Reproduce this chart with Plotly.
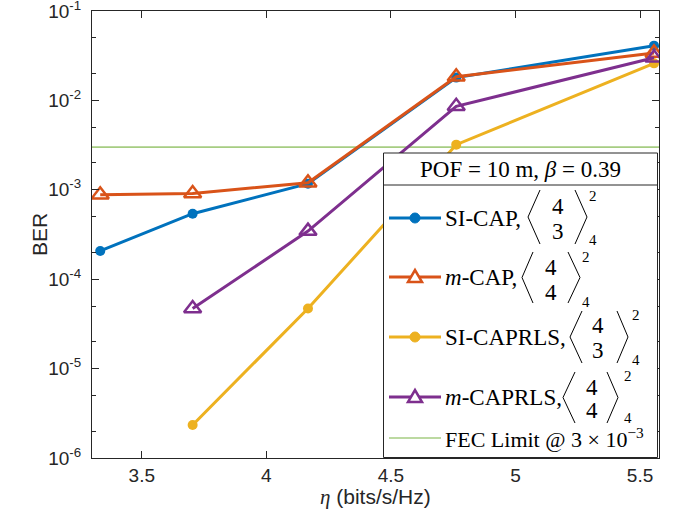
import plotly.graph_objects as go

# ---------------- data ----------------
eta = [3.333, 3.704, 4.167, 4.762, 5.556]
ber_si_cap = [2.07e-4, 5.4e-4, 1.17e-3, 1.80e-2, 4.1e-2]
ber_m_cap = [8.8e-4, 9.1e-4, 1.2e-3, 1.84e-2, 3.4e-2]
ber_si_caprls = [None, 2.34e-6, 4.7e-5, 3.2e-3, 2.6e-2]
ber_m_caprls = [None, 4.7e-5, 3.45e-4, 8.6e-3, 3.0e-2]
fec_limit = 3e-3
x_ticks = [3.5, 4, 4.5, 5, 5.5]
y_ticks = [1e-6, 1e-5, 1e-4, 1e-3, 1e-2, 1e-1]
y_ticktext = ["10<sup>-6</sup>", "10<sup>-5</sup>", "10<sup>-4</sup>",
              "10<sup>-3</sup>", "10<sup>-2</sup>", "10<sup>-1</sup>"]
series_names = ["SI-CAP", "m-CAP", "SI-CAPRLS", "m-CAPRLS"]

BLUE, ORANGE, YELLOW, PURPLE = "#0072BD", "#D95319", "#EDB120", "#7E2F8E"
FEC_C = "#a6cd82"
AX_C = "#262626"

W, H = 686, 520
L, R, T, B = 92, 659, 11, 458
X_RANGE = [3.30, 5.576]
Y_RANGE = [-6.0005, -0.9995]


def px(x):
    return (x - L) / (R - L)


def py(y):
    return (B - y) / (B - T)


fig = go.Figure()

def circ(color):
    return dict(symbol="circle", size=10, color=color)

def tri(color):
    return dict(symbol="triangle-up-open", size=15, color=color,
                line=dict(width=2.5, color=color))

for name, ys, color, mk in [
    (series_names[0], ber_si_cap, BLUE, circ(BLUE)),
    (series_names[1], ber_m_cap, ORANGE, tri(ORANGE)),
    (series_names[2], ber_si_caprls, YELLOW, circ(YELLOW)),
    (series_names[3], ber_m_caprls, PURPLE, tri(PURPLE)),
]:
    fig.add_trace(go.Scatter(x=eta, y=ys, mode="lines+markers", name=name,
                             line=dict(color=color, width=3), marker=mk,
                             showlegend=False, connectgaps=False))

# empty trace so the overlay (tick-only) axes get drawn
fig.add_trace(go.Scatter(x=[None], y=[None], xaxis="x2", yaxis="y2",
                         showlegend=False, hoverinfo="skip"))

# ---------------- shapes / annotations ----------------
shapes = []
annos = []
SERIF = "Liberation Serif"
FS = 23
FS_SMALL = 15

shapes.append(dict(type="line", xref="paper", yref="y", x0=0, x1=1,
                   y0=fec_limit, y1=fec_limit, line=dict(color=FEC_C, width=1.6),
                   layer="between"))

bx0, bx1, by0, by1 = px(383.5), px(657.5), py(457.5), py(153)
shapes.append(dict(type="rect", xref="paper", yref="paper",
                   x0=bx0, x1=bx1, y0=by0, y1=by1,
                   fillcolor="white", line=dict(color=AX_C, width=1), layer="above"))
shapes.append(dict(type="line", xref="paper", yref="paper",
                   x0=bx0, x1=bx1, y0=py(185), y1=py(185),
                   line=dict(color=AX_C, width=1), layer="above"))
annos.append(dict(text="POF = 10 m, <i>β</i> = 0.39", x=px(520), y=py(169),
                  xanchor="center", yanchor="middle"))

entries = [
    ("SI-CAP,", BLUE, "c", 218, (528, 540, 575, 587, 190, 244), 558, (207, 231), 593, 196, 240, "3"),
    ("<i>m</i>-CAP,", ORANGE, "t", 277, (522, 533, 568, 580, 252, 303), 551, (267, 292), 586, 257, 302, "4"),
    ("SI-CAPRLS,", YELLOW, "c", 337, (570, 582, 617, 628, 311, 363), 598, (325, 350), 636, 315, 360, "3"),
    ("<i>m</i>-CAPRLS,", PURPLE, "t", 397, (563, 575, 607, 618, 372, 423), 592, (387, 410), 628, 376, 418, "4"),
]

for label, color, mk, ly, br, dx, dys, sx, sy, suby, d2 in entries:
    shapes.append(dict(type="line", xref="paper", yref="paper",
                       x0=px(389), x1=px(441), y0=py(ly), y1=py(ly),
                       line=dict(color=color, width=3), layer="above"))
    if mk == "c":
        shapes.append(dict(type="circle", xref="paper", yref="paper",
                           xsizemode="pixel", ysizemode="pixel",
                           xanchor=px(415), yanchor=py(ly),
                           x0=-5, x1=5, y0=-5, y1=5,
                           fillcolor=color, line=dict(color=color, width=1),
                           layer="above"))
    else:
        shapes.append(dict(type="path", xref="paper", yref="paper",
                           xsizemode="pixel", ysizemode="pixel",
                           xanchor=px(415), yanchor=py(ly),
                           path="M -7 -5 L 7 -5 L 0 7 Z",
                           fillcolor="white", line=dict(color=color, width=2.5),
                           layer="above"))
    annos.append(dict(text=label, x=px(443), y=py(ly), xanchor="left", yanchor="middle"))
    ltip, ltop, rtop, rtip, ytop, ybot = br
    ymid = (ytop + ybot) / 2
    shapes.append(dict(type="path", xref="paper", yref="paper",
                       path=f"M {px(ltop)} {py(ytop)} L {px(ltip)} {py(ymid)} L {px(ltop)} {py(ybot)}",
                       line=dict(color="black", width=1), layer="above"))
    shapes.append(dict(type="path", xref="paper", yref="paper",
                       path=f"M {px(rtop)} {py(ytop)} L {px(rtip)} {py(ymid)} L {px(rtop)} {py(ybot)}",
                       line=dict(color="black", width=1), layer="above"))
    annos.append(dict(text="4", x=px(dx), y=py(dys[0]), xanchor="center", yanchor="middle"))
    annos.append(dict(text=d2, x=px(dx), y=py(dys[1]), xanchor="center", yanchor="middle"))
    annos.append(dict(text="2", x=px(sx), y=py(sy), xanchor="center", yanchor="middle", size=FS_SMALL))
    annos.append(dict(text="4", x=px(sx), y=py(suby), xanchor="center", yanchor="middle", size=FS_SMALL))

shapes.append(dict(type="line", xref="paper", yref="paper",
                   x0=px(389), x1=px(441), y0=py(438), y1=py(438),
                   line=dict(color=FEC_C, width=1.6), layer="above"))
annos.append(dict(text="FEC Limit @ 3 × 10<sup>−3</sup>", x=px(443), y=py(438),
                  xanchor="left", yanchor="middle", size=22))

annotations = []
for a in annos:
    size = a.pop("size", FS)
    annotations.append(dict(xref="paper", yref="paper", showarrow=False,
                            font=dict(family=SERIF, size=size, color="black"), **a))

annotations.append(dict(xref="paper", yref="paper", x=px(39), y=py(235), showarrow=False,
                        text="BER", textangle=-90, xanchor="center", yanchor="middle",
                        font=dict(family="Liberation Sans", size=21, color=AX_C)))
annotations.append(dict(xref="paper", yref="paper", x=px(375), y=py(497), showarrow=False,
                        text='<span style="font-family:Liberation Serif"><i>η</i></span> (bits/s/Hz)',
                        xanchor="center", yanchor="middle",
                        font=dict(family="Liberation Sans", size=21, color=AX_C)))

tick_common = dict(ticks="inside", ticklen=7, tickcolor=AX_C, tickwidth=1, mirror="allticks",
                   showline=True, linecolor=AX_C, linewidth=1, showgrid=False, zeroline=False,
                   automargin=False)
y_minor = dict(ticks="inside", ticklen=4, tickcolor=AX_C, tickwidth=1, showgrid=False)

fig.update_layout(
    width=W, height=H,
    margin=dict(l=L, r=W - R, t=T, b=H - B, autoexpand=False),
    paper_bgcolor="white", plot_bgcolor="white",
    font=dict(family="Liberation Sans", color=AX_C),
    xaxis=dict(range=X_RANGE, tickvals=x_ticks, ticktext=[str(v) for v in x_ticks],
               tickfont=dict(size=19, color=AX_C), ticklabeloverflow="allow", **tick_common),
    yaxis=dict(type="log", range=Y_RANGE, tickvals=y_ticks, ticktext=y_ticktext,
               minor=y_minor, tickfont=dict(size=19, color=AX_C),
               ticklabelstandoff=6, ticklabeloverflow="allow", **tick_common),
    xaxis2=dict(overlaying="x", matches="x", side="top", anchor="y2", range=X_RANGE,
                tickvals=x_ticks, showticklabels=False, **tick_common),
    yaxis2=dict(overlaying="y", matches="y", side="right", anchor="x2", type="log",
                range=Y_RANGE, tickvals=y_ticks, showticklabels=False, minor=y_minor,
                **tick_common),
)
fig.update_layout(shapes=shapes, annotations=annotations)

fig.write_html("out.html", config={"displayModeBar": False},
               post_script="document.body.style.margin='0';document.body.style.padding='0';")
